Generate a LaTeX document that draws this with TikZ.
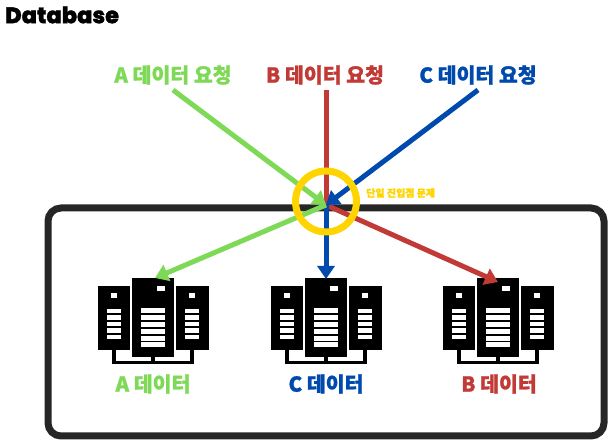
\documentclass[tikz,border=0pt]{standalone}
\usepackage{fontspec}
\usepackage{xcolor}
\usetikzlibrary{arrows.meta}
\newfontfamily\krfont[BoldFont={Noto Sans CJK KR Black},BoldFeatures={FakeBold=1.2}]{Noto Sans CJK KR}
\setmainfont[BoldFont={Poppins ExtraBold},BoldFeatures={FakeBold=1.5}]{Poppins}
\definecolor{dbgreen}{HTML}{7ED957}
\definecolor{dbred}{HTML}{C23A35}
\definecolor{dbblue}{HTML}{004AAD}
\definecolor{dbyellow}{HTML}{FFD400}
\definecolor{dbframe}{HTML}{262626}
\tikzset{
  reqlabel/.style={font=\krfont\bfseries\fontsize{20.5}{20.5}\selectfont, inner sep=0pt},
  dblabel/.style={font=\krfont\bfseries\fontsize{20.5}{20.5}\selectfont, inner sep=0pt},
  reqline/.style={line width=5pt},
  reqarrow/.style={line width=5pt, -{Triangle[length=13pt,width=17pt]}},
  rackwhite/.style={fill=white},
  serverrack/.pic={
    % side towers and the middle one
    \draw[black, line width=3.5pt] (-39,-55) -- (-39,-68.5) -- (39,-68.5) -- (39,-55);
    \draw[black, line width=3.5pt] (0,-62) -- (0,-68.5);
    \fill[black] (-55,-56) rectangle (-23,8);
    \fill[black] (23,-56) rectangle (56,8);
    \fill[black] (-21,-63) rectangle (21,16);
    \fill[rackwhite] (-42,-4) rectangle (-36,1);
    \fill[rackwhite] (36,-4) rectangle (42,1);
    \fill[rackwhite] (4,8) rectangle (12,3);
    \foreach \k in {0,...,4} {
      \fill[rackwhite] (-46,{-15-\k*6.4}) rectangle (-32,{-19.5-\k*6.4});
      \fill[rackwhite] (32,{-15-\k*6.4}) rectangle (46,{-19.5-\k*6.4});
    }
    \foreach \k in {0,...,5} {
      \fill[rackwhite] (-12,{-14-\k*6.9}) rectangle (12,{-19-\k*6.9});
    }
  },
}
\begin{document}
\begin{tikzpicture}[x=1pt,y=1pt]
\useasboundingbox (0,0) rectangle (614,443);
\node[font=\bfseries\fontsize{22.5}{22.5}\selectfont, anchor=west, inner sep=0pt] (title) at (5,428) {Database};
% frame
\draw[dbframe, line width=7pt, rounded corners=13pt] (48,235) rectangle (604,7);
% racks
\pic at (153,149) {serverrack};
\pic at (326,149) {serverrack};
\pic at (498,149) {serverrack};
% labels
\node[reqlabel, text=dbgreen] (reqA) at (173,368) {A 데이터 요청};
\node[reqlabel, text=dbred] (reqB) at (325,368) {B 데이터 요청};
\node[reqlabel, text=dbblue] (reqC) at (478,368) {C 데이터 요청};
\node[dblabel, text=dbgreen] (dataA) at (153,59) {A 데이터};
\node[dblabel, text=dbblue] (dataC) at (326,59) {C 데이터};
\node[dblabel, text=dbred] (dataB) at (499,59) {B 데이터};
\node[font=\krfont\bfseries\fontsize{10}{10}\selectfont, text=dbyellow, anchor=west, inner sep=0pt] (issue) at (366,250) {단일 진입점 문제};
% connectors
\coordinate (hub) at (326,238);
\coordinate (srcA) at (173,353);
\coordinate (srcB) at (326,353);
\coordinate (srcC) at (478,353);
\coordinate (dstA) at (155,165);
\coordinate (dstC) at (326,164);
\coordinate (dstB) at (498,161);
\draw[reqline, dbred] (srcB) -- (hub);
\draw[reqarrow, dbred] (hub) -- (dstB);
\draw[reqarrow, dbblue] (hub) -- (dstC);
\draw[reqarrow, dbgreen] (hub) -- (dstA);
\draw[reqarrow, dbgreen] (srcA) -- (hub);
\draw[reqarrow, dbblue] (srcC) -- (hub);
% ring
\node[circle, draw=dbyellow, line width=7pt, minimum size=61pt, inner sep=0pt] (ring) at (326,241.5) {};
\end{tikzpicture}
\end{document}
